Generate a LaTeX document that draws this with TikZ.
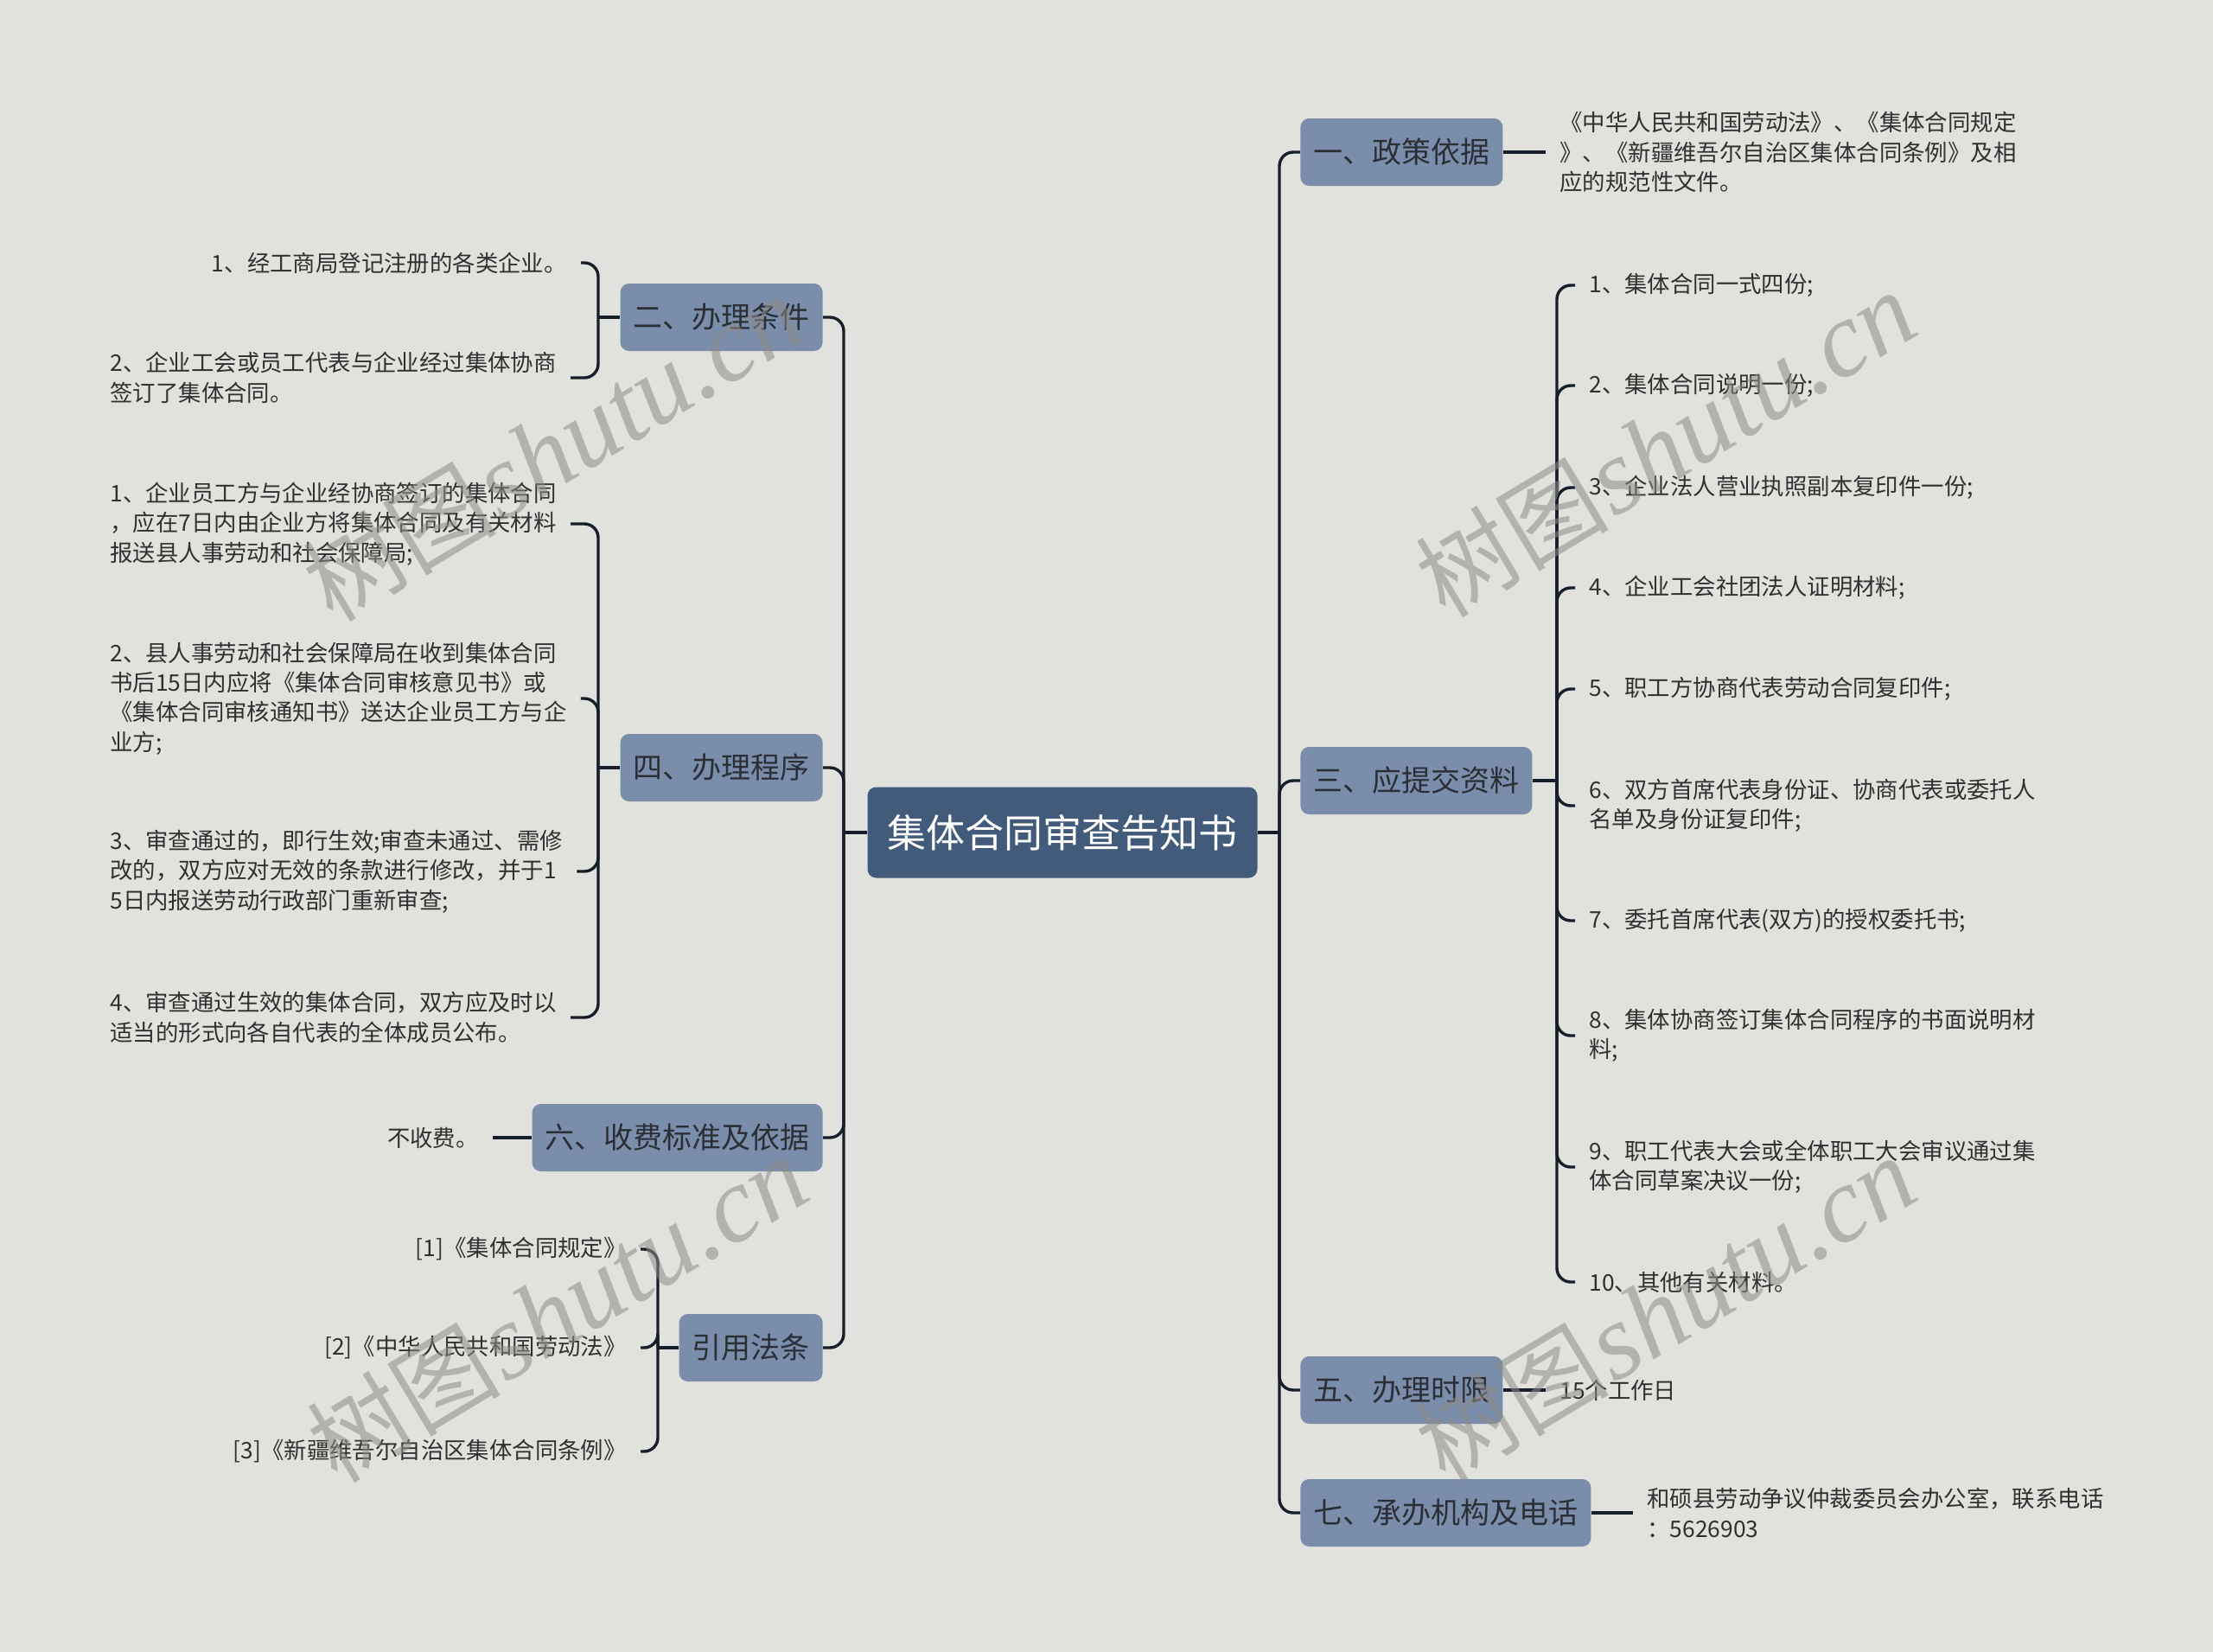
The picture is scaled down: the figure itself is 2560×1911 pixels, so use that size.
\documentclass[tikz,border=0pt]{standalone}
\usepackage{fontspec}
\setmainfont{Noto Sans CJK SC}
\newfontfamily\wmlat{Liberation Serif}
\newfontfamily\wmcjk{Noto Sans CJK SC}
\definecolor{bgc}{HTML}{E1E2DD}
\definecolor{rootc}{HTML}{435B7A}
\definecolor{topicc}{HTML}{7A8DAA}
\definecolor{topictext}{HTML}{2A2E35}
\definecolor{leaftext}{HTML}{303030}
\definecolor{linec}{HTML}{161E2A}
\definecolor{wmc}{HTML}{8C8C88}
\tikzset{
  conn/.style={draw=linec, line width=1.7pt},
  rconn/.style={conn, rounded corners=8pt},
  rootbox/.style={fill=rootc, rounded corners=5pt, text=white,
    font=\fontsize{22.5}{27}\selectfont, minimum height=52.5pt, inner xsep=11.5pt, inner ysep=0pt},
  topic/.style={fill=topicc, rounded corners=5pt, text=topictext,
    font=\fontsize{17}{20}\selectfont, minimum height=39pt, inner xsep=7.5pt, inner ysep=0pt},
  leaf/.style={text=leaftext, font=\fontsize{13.2}{17.2}\selectfont, inner xsep=8pt, inner ysep=0pt, align=left},
  wm/.style={text=wmc, opacity=0.55, rotate=31, inner sep=0pt}
}
\begin{document}
\begin{tikzpicture}[x=0.5pt,y=-0.5pt]
\useasboundingbox (0,0) rectangle (2560,1911);
\fill[bgc] (0,0) rectangle (2560,1911);

% root
\node[rootbox] (root) at (1229,963) {集体合同审查告知书};

% right topics
\node[topic, anchor=west] (t1) at (1504,176) {一、政策依据};
\node[topic, anchor=west] (t3) at (1504,903) {三、应提交资料};
\node[topic, anchor=west] (t5) at (1504,1608) {五、办理时限};
\node[topic, anchor=west] (t7) at (1504,1750) {七、承办机构及电话};
% left topics
\node[topic, anchor=east] (t2) at (952,367) {二、办理条件};
\node[topic, anchor=east] (t4) at (952,888) {四、办理程序};
\node[topic, anchor=east] (t6) at (952,1316) {六、收费标准及依据};
\node[topic, anchor=east] (t8) at (952,1559) {引用法条};

% right leaves
\node[leaf, anchor=west] (l1) at (1788,176) {《中华人民共和国劳动法》、《集体合同规定\\》、《新疆维吾尔自治区集体合同条例》及相\\应的规范性文件。};
\node[leaf, anchor=west] (l3a) at (1822,330) {1、集体合同一式四份;};
\node[leaf, anchor=west] (l3b) at (1822,446) {2、集体合同说明一份;};
\node[leaf, anchor=west] (l3c) at (1822,564) {3、企业法人营业执照副本复印件一份;};
\node[leaf, anchor=west] (l3d) at (1822,680) {4、企业工会社团法人证明材料;};
\node[leaf, anchor=west] (l3e) at (1822,797) {5、职工方协商代表劳动合同复印件;};
\node[leaf, anchor=west] (l3f) at (1822,932) {6、双方首席代表身份证、协商代表或委托人\\名单及身份证复印件;};
\node[leaf, anchor=west] (l3g) at (1822,1065) {7、委托首席代表(双方)的授权委托书;};
\node[leaf, anchor=west] (l3h) at (1822,1198) {8、集体协商签订集体合同程序的书面说明材\\料;};
\node[leaf, anchor=west] (l3i) at (1822,1350) {9、职工代表大会或全体职工大会审议通过集\\体合同草案决议一份;};
\node[leaf, anchor=west] (l3j) at (1822,1483) {10、其他有关材料。};
\node[leaf, anchor=west] (l5) at (1788,1608) {15个工作日};
\node[leaf, anchor=west] (l7) at (1889,1750) {和硕县劳动争议仲裁委员会办公室，联系电话\\：5626903};

% left leaves
\node[leaf, anchor=east] (l2a) at (672,304) {1、经工商局登记注册的各类企业。};
\node[leaf, anchor=west] (l2b) at (111,437) {2、企业工会或员工代表与企业经过集体协商\\签订了集体合同。};
\node[leaf, anchor=west] (l4a) at (111,606) {1、企业员工方与企业经协商签订的集体合同\\，应在7日内由企业方将集体合同及有关材料\\报送县人事劳动和社会保障局;};
\node[leaf, anchor=west] (l4b) at (111,808) {2、县人事劳动和社会保障局在收到集体合同\\书后15日内应将《集体合同审核意见书》或\\《集体合同审核通知书》送达企业员工方与企\\业方;};
\node[leaf, anchor=west] (l4c) at (111,1008) {3、审查通过的，即行生效;审查未通过、需修\\改的，双方应对无效的条款进行修改，并于1\\5日内报送劳动行政部门重新审查;};
\node[leaf, anchor=west] (l4d) at (111,1177) {4、审查通过生效的集体合同，双方应及时以\\适当的形式向各自代表的全体成员公布。};
\node[leaf, anchor=east] (l6) at (570,1316) {不收费。};
\node[leaf, anchor=east] (l8a) at (741,1445) {[1]《集体合同规定》};
\node[leaf, anchor=east] (l8b) at (741,1559) {[2]《中华人民共和国劳动法》};
\node[leaf, anchor=east] (l8c) at (741,1679) {[3]《新疆维吾尔自治区集体合同条例》};

% junctions
\coordinate (rj) at (1480,963);
\coordinate (lj) at (976,963);
\coordinate (j3) at (1801,903);
\coordinate (j2) at (692,367);
\coordinate (j4) at (692,888);
\coordinate (j8) at (761,1559);

% connectors
\draw[conn] (root.east) -- (rj);
\foreach \n in {t1,t3,t5,t7} \draw[rconn] (rj) |- (\n.west);
\draw[conn] (root.west) -- (lj);
\foreach \n in {t2,t4,t6,t8} \draw[rconn] (lj) |- (\n.east);

\draw[conn] (t1.east) -- (l1.west);
\draw[conn] (t3.east) -- (j3);
\foreach \n in {l3a,l3b,l3c,l3d,l3e,l3f,l3g,l3h,l3i,l3j} \draw[rconn] (j3) |- (\n.west);
\draw[conn] (t5.east) -- (l5.west);
\draw[conn] (t7.east) -- (l7.west);

\draw[conn] (t2.west) -- (j2);
\foreach \n in {l2a,l2b} \draw[rconn] (j2) |- (\n.east);
\draw[conn] (t4.west) -- (j4);
\foreach \n in {l4a,l4b,l4c,l4d} \draw[rconn] (j4) |- (\n.east);
\draw[conn] (t6.west) -- (l6.east);
\draw[conn] (t8.west) -- (j8);
\foreach \n in {l8a,l8b,l8c} \draw[rconn] (j8) |- (\n.east);

% watermarks
\node[wm] (w1) at (640,519) {{\wmcjk\fontsize{56}{60}\selectfont 树图}\,{\wmlat\itshape\fontsize{62}{66}\selectfont shutu.cn}};
\node[wm] (w2) at (1927,514) {{\wmcjk\fontsize{56}{60}\selectfont 树图}\,{\wmlat\itshape\fontsize{62}{66}\selectfont shutu.cn}};
\node[wm] (w3) at (645,1515) {{\wmcjk\fontsize{56}{60}\selectfont 树图}\,{\wmlat\itshape\fontsize{62}{66}\selectfont shutu.cn}};
\node[wm] (w4) at (1927,1515) {{\wmcjk\fontsize{56}{60}\selectfont 树图}\,{\wmlat\itshape\fontsize{62}{66}\selectfont shutu.cn}};
\end{tikzpicture}
\end{document}
